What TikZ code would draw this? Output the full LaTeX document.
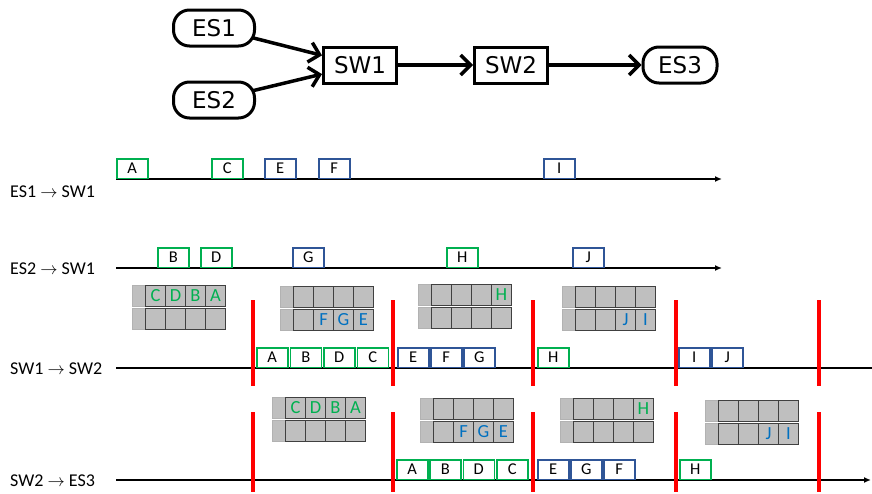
\documentclass[tikz,border=0pt]{standalone}
\usepackage{fontspec}
\setmainfont{Carlito}
\newfontfamily\netfont{DejaVu Sans}
\usetikzlibrary{arrows.meta}
\definecolor{fgreen}{RGB}{0,176,80}
\definecolor{fblue}{RGB}{47,85,151}
\definecolor{qblue}{RGB}{0,112,192}
\definecolor{qgray}{RGB}{191,191,191}
\newcommand{\gq}[1]{\textcolor{fgreen}{#1}}
\newcommand{\bq}[1]{\textcolor{qblue}{#1}}
\tikzset{
    esnode/.style = {rectangle, rounded corners=16pt, line width=3pt, draw=black, minimum width=81pt, minimum height=36pt, inner sep=0pt, font=\netfont\fontsize{23}{26}\selectfont},
    swnode/.style = {rectangle, line width=3pt, draw=black, minimum width=73pt, minimum height=36pt, inner sep=0pt, font=\netfont\fontsize{23}{26}\selectfont},
    edgen/.style = {-{Straight Barb[length=10pt,width=20pt]}, line width=3.5pt},
    timeline/.style = {line width=1.6pt},
    timelinea/.style = {-{Latex[length=7pt,width=6pt]}, line width=1.6pt},
    frame/.style = {rectangle, line width=1.5pt, fill=white, minimum width=31pt, minimum height=19.5pt, inner sep=0pt, anchor=south west, font=\fontsize{16.5}{16.5}\selectfont},
    gframe/.style = {frame, draw=fgreen},
    bframe/.style = {frame, draw=fblue},
    qfirst/.style = {rectangle, fill=qgray, draw=gray!60, line width=1pt, minimum width=13pt, minimum height=21pt, inner sep=0pt, anchor=south west},
    qcell/.style = {rectangle, fill=qgray, draw=black!75, line width=1pt, minimum width=20pt, minimum height=21pt, inner sep=0pt, anchor=south west, font=\fontsize{18.5}{18.5}\selectfont},
    cutline/.style = {line width=3.5pt, red},
    rowlabel/.style = {anchor=west, inner sep=0pt, font=\fontsize{18}{18}\selectfont}
}
% one row of a queue: name, x, y (bottom), four cells
\newcommand{\qrow}[7]{%
  \node[qfirst] at (#2,#3) (#1-1) {};
  \node[qcell] at (#2+13,#3) (#1-2) {#4};
  \node[qcell] at (#2+33,#3) (#1-3) {#5};
  \node[qcell] at (#2+53,#3) (#1-4) {#6};
  \node[qcell] at (#2+73,#3) (#1-5) {#7};
}
\begin{document}
\begin{tikzpicture}[x=1pt,y=-1pt]
\useasboundingbox (0,0) rectangle (872,493);
%
\node[esnode] at (214,28) (es1) {ES1};
\node[esnode] at (214,100) (es2) {ES2};
\node[swnode] at (360,65) (sw1) {SW1};
\node[swnode] at (511,65) (sw2) {SW2};
\node[esnode, minimum width=74pt] at (680,65) (es3) {ES3};
%
\draw[edgen, shorten <=-3pt] (es1) -- (sw1);
\draw[edgen, shorten <=-3pt] (es2) -- (sw1);
\draw[edgen] (sw1) -- (sw2);
\draw[edgen] (sw2) -- (es3);
%
\node[rowlabel] at (10,192) (lab1) {ES1 $\rightarrow$ SW1};
\node[rowlabel] at (10,269) (lab2) {ES2 $\rightarrow$ SW1};
\node[rowlabel] at (10,369) (lab3) {SW1 $\rightarrow$ SW2};
\node[rowlabel] at (10,481) (lab4) {SW2 $\rightarrow$ ES3};
%
\coordinate (l1s) at (116,179); \coordinate (l1e) at (722,179);
\coordinate (l2s) at (116,268); \coordinate (l2e) at (722,268);
\coordinate (l3s) at (116,368); \coordinate (l3e) at (872,368);
\coordinate (l4s) at (116,480); \coordinate (l4e) at (871,480);
\draw[timelinea] (l1s) -- (l1e);
\draw[timelinea] (l2s) -- (l2e);
\draw[timeline] (l3s) -- (l3e);
\draw[timelinea] (l4s) -- (l4e);
%
% ES1 -> SW1
\node[gframe] at (116,179) (r1a) {A};
\node[gframe] at (211,179) (r1c) {C};
\node[bframe] at (264,179) (r1e) {E};
\node[bframe] at (318,179) (r1f) {F};
\node[bframe] at (543,179) (r1i) {I};
% ES2 -> SW1
\node[gframe] at (157,268) (r2b) {B};
\node[gframe] at (200,268) (r2d) {D};
\node[bframe] at (292,268) (r2g) {G};
\node[gframe] at (446,268) (r2h) {H};
\node[bframe] at (572,268) (r2j) {J};
% SW1 -> SW2
\node[gframe] at (256,368) (r3a) {A};
\node[gframe] at (289.5,368) (r3b) {B};
\node[gframe] at (323,368) (r3d) {D};
\node[gframe] at (356.5,368) (r3c) {C};
\node[bframe] at (397,368) (r3e) {E};
\node[bframe] at (430,368) (r3f) {F};
\node[bframe] at (463,368) (r3g) {G};
\node[gframe] at (537,368) (r3h) {H};
\node[bframe] at (678,368) (r3i) {I};
\node[bframe] at (711,368) (r3j) {J};
% SW2 -> ES3
\node[gframe] at (396,480) (r4a) {A};
\node[gframe] at (429,480) (r4b) {B};
\node[gframe] at (462.5,480) (r4d) {D};
\node[gframe] at (496,480) (r4c) {C};
\node[bframe] at (537,480) (r4e) {E};
\node[bframe] at (570,480) (r4g) {G};
\node[bframe] at (603,480) (r4f) {F};
\node[gframe] at (679,480) (r4h) {H};
%
% queues in SW1
\qrow{q31t}{132}{307}{\gq C}{\gq D}{\gq B}{\gq A}
\qrow{q31b}{132}{330}{}{}{}{}
\qrow{q32t}{280}{308}{}{}{}{}
\qrow{q32b}{280}{331}{}{\bq F}{\bq G}{\bq E}
\qrow{q33t}{418}{306}{}{}{}{\gq H}
\qrow{q33b}{418}{329}{}{}{}{}
\qrow{q34t}{562}{308}{}{}{}{}
\qrow{q34b}{562}{331}{}{}{\bq J}{\bq I}
% queues in SW2
\qrow{q41t}{272}{419}{\gq C}{\gq D}{\gq B}{\gq A}
\qrow{q41b}{272}{442}{}{}{}{}
\qrow{q42t}{420}{420}{}{}{}{}
\qrow{q42b}{420}{443}{}{\bq F}{\bq G}{\bq E}
\qrow{q43t}{560}{420}{}{}{}{\gq H}
\qrow{q43b}{560}{443}{}{}{}{}
\qrow{q44t}{705}{422}{}{}{}{}
\qrow{q44b}{705}{445}{}{}{\bq J}{\bq I}
%
% cycle borders
\foreach \x [count=\i] in {253,393,533,676,819} {
  \coordinate (c3t-\i) at (\x,300); \coordinate (c3b-\i) at (\x,386);
  \coordinate (c4t-\i) at (\x,412); \coordinate (c4b-\i) at (\x,492);
  \draw[cutline] (c3t-\i) -- (c3b-\i);
  \draw[cutline] (c4t-\i) -- (c4b-\i);
}
\end{tikzpicture}
\end{document}
